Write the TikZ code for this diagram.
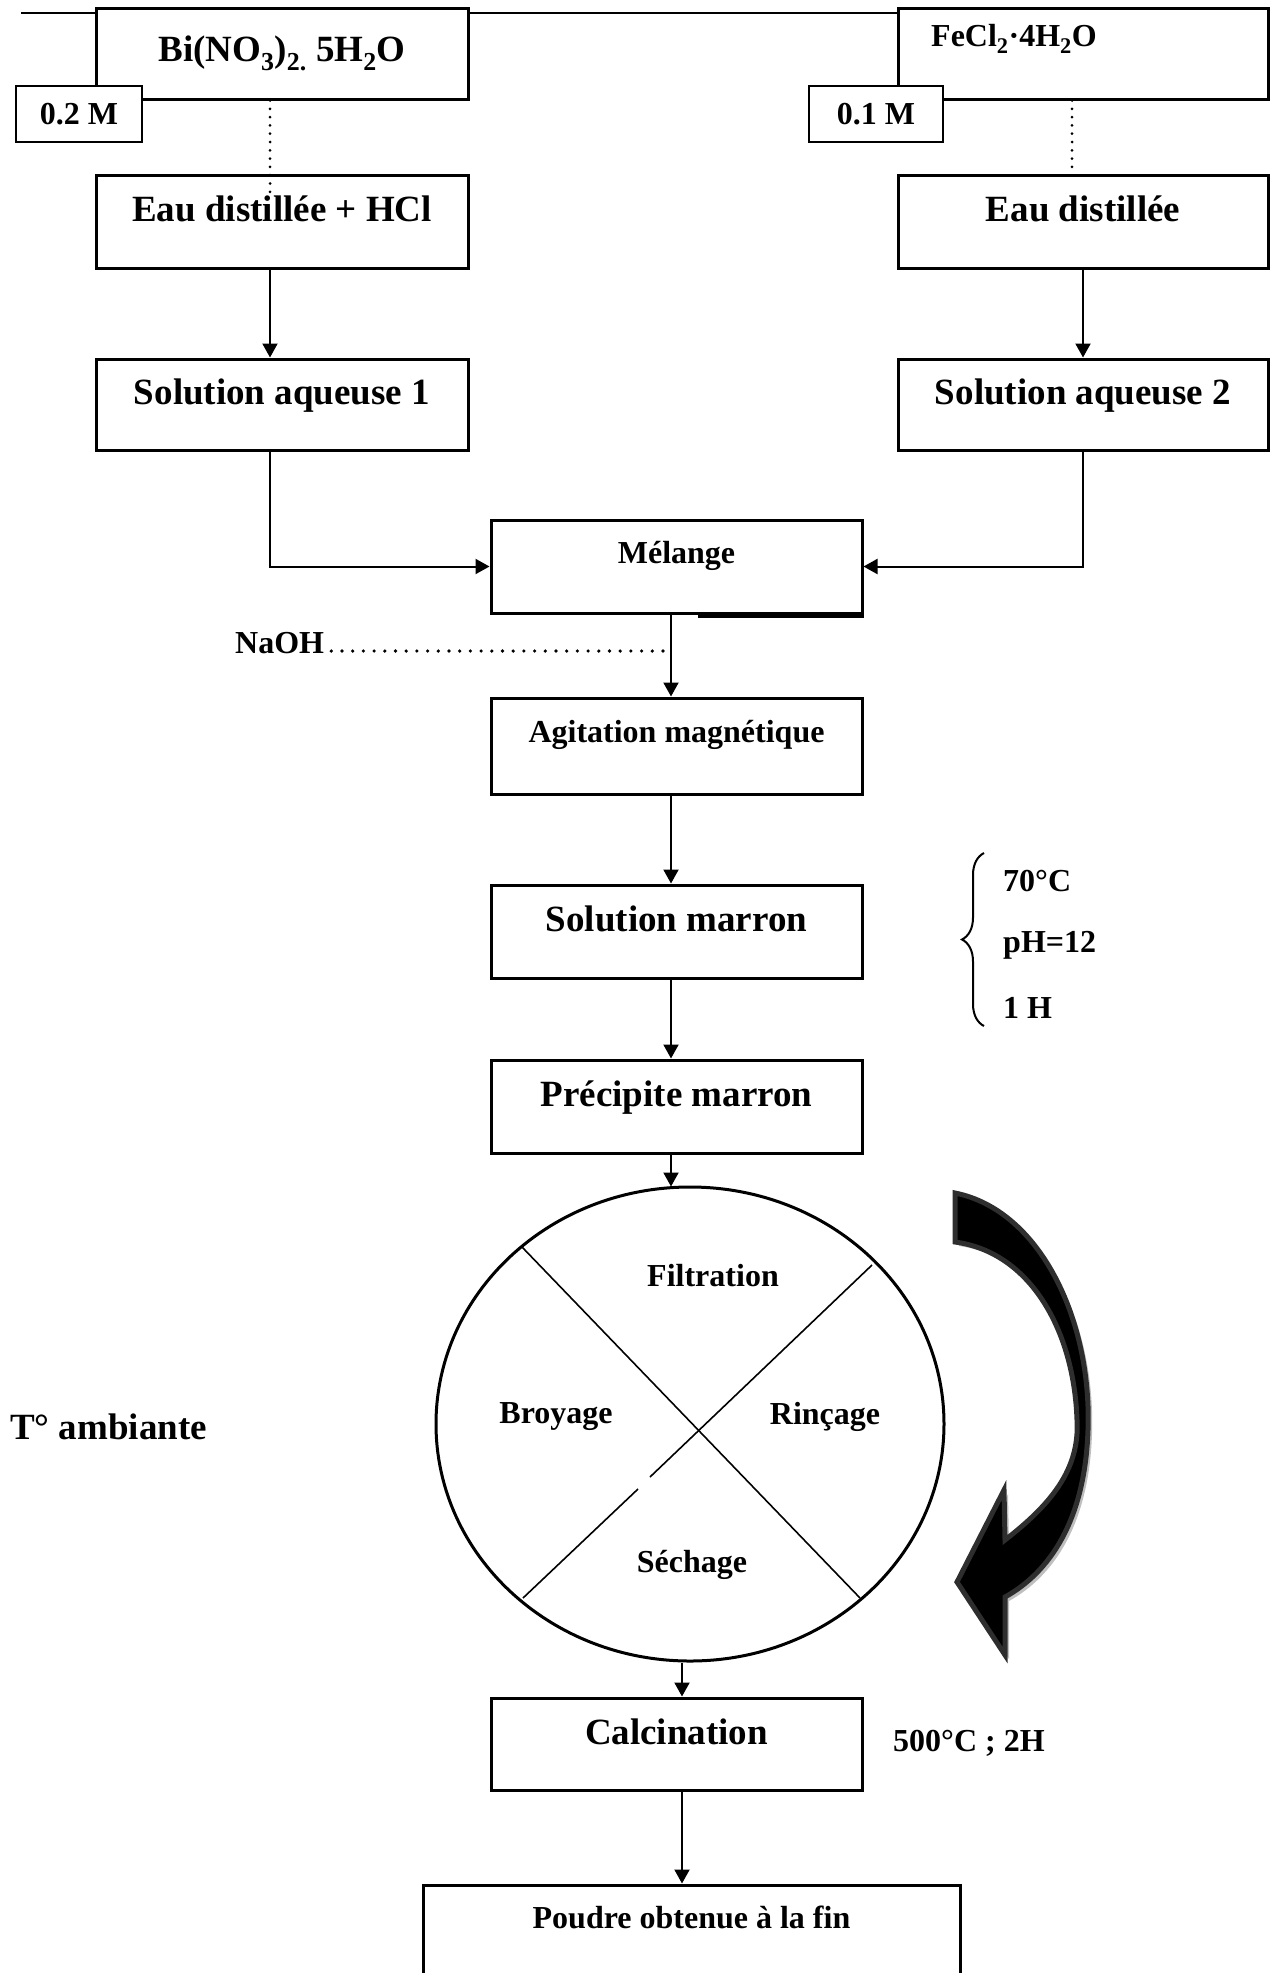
\documentclass[tikz,border=0pt]{standalone}
\usepackage{fontspec}
\setmainfont{Liberation Serif}
\usetikzlibrary{arrows.meta,decorations.pathreplacing,shapes.geometric,calc}
\newcommand\curvedarrowpath{(955,1193) .. controls (1040,1210) and (1092,1320) .. (1088,1430) .. controls (1085,1520) and (1050,1572) .. (1005,1597) -- (1005,1655) -- (957,1582) -- (1004,1490) -- (1005,1540) .. controls (1050,1505) and (1080,1470) .. (1077,1420) .. controls (1074,1330) and (1030,1252) .. (955,1242) -- cycle}
\begin{document}
\begin{tikzpicture}[x=1pt,y=-1pt,
  box/.style={draw, line width=3pt, fill=white, inner sep=0pt},
  bigtxt/.style={font=\fontsize{37}{40}\selectfont\bfseries},
  smalltxt/.style={font=\fontsize{32}{35}\selectfont\bfseries},
  bigbox/.style={box, bigtxt, minimum width=372pt, minimum height=93pt, text height=26pt, text depth=26pt},
  smallbox/.style={box, smalltxt, minimum width=372pt, minimum height=93pt, text height=22pt, text depth=29pt},
  molbox/.style={draw, line width=2pt, fill=white, smalltxt, inner sep=0pt, minimum height=56pt},
  conn/.style={line width=2pt, -{Triangle[length=14pt,width=15pt]}},
  dotline/.style={line width=3pt, line cap=round, dash pattern=on 0pt off 8.3pt},
  dotlinebig/.style={line width=3.6pt, line cap=round, dash pattern=on 0pt off 10.7pt},
  lbl/.style={smalltxt, inner sep=0pt},
]
\useasboundingbox (0,0) rectangle (1271,1973);
\clip (0,0) rectangle (1271,1973);

% column x positions
\coordinate (c1) at (270,0);
\coordinate (c2) at (1072,0);
\coordinate (c3) at (671,0);
\coordinate (c4) at (682,0);
\coordinate (c5) at (698,0);

% header rule
\coordinate (h1) at (21,13);
\coordinate (h2) at (900,13);
\draw[line width=2.2pt] (h1) -- (h2);

% top boxes
\node[box, bigtxt, minimum width=372pt, minimum height=91pt] (bi) at (282,53.5)
  {Bi(NO\textsubscript{3})\textsubscript{2.} 5H\textsubscript{2}O};
\node[box, minimum width=370pt, minimum height=91pt] (fe) at (1083,53.5) {};
\node[lbl] (fetxt) at (1014,39) {FeCl\textsubscript{2}·4H\textsubscript{2}O};
\node[molbox, minimum width=126pt] (m02) at (79,114) {0.2 M};
\node[molbox, minimum width=134pt] (m01) at (876,114) {0.1 M};

% second row
\node[bigbox] (eau1) at (282,221.5) {Eau distillée + HCl};
\node[bigbox, minimum width=370pt] (eau2) at (1083,221.5) {Eau distillée};
\coordinate (d1) at (270,193);
\coordinate (d2) at (1072,172);
\draw[dotline] (bi.south -| c1) -- (d1);
\draw[dotline] (fe.south -| c2) -- (d2);

% solutions
\node[bigbox, minimum height=91pt] (sol1) at (282,404.5) {Solution aqueuse 1};
\node[bigbox, minimum width=370pt, minimum height=91pt] (sol2) at (1083,404.5) {Solution aqueuse 2};
\draw[conn] (eau1.south -| c1) -- (sol1.north -| c1);
\draw[conn] (eau2.south) -- (sol2.north);

% main column
\node[smallbox, minimum width=371pt] (mel) at (676.5,566.5) {Mélange};
\draw[line width=3pt] ($(mel.south east)+(0,1.5)$) -- ($(mel.south -| c5)+(0,1.5)$);
\draw[conn] (c1 |- sol1.south) |- (mel.west);
\draw[conn] (sol2.south) |- (mel.east);

\node[smallbox, minimum width=371pt, minimum height=96pt] (agit) at (676.5,746) {Agitation magnétique};
\draw[conn] (mel.south -| c3) -- (agit.north -| c3);

\node[smalltxt, anchor=base west, inner sep=0pt] (naoh) at (235,653) {NaOH};
\draw[dotlinebig] ($(naoh.base east)+(7,-2)$) -- ($(c3 |- naoh.base)+(0,-2)$);

\node[bigbox, minimum width=371pt] (solm) at (676.5,931.5) {Solution marron};
\draw[conn] (agit.south -| c3) -- (solm.north -| c3);

% conditions brace
\coordinate (b1) at (984,1026);
\coordinate (b2) at (984,853);
\draw[line width=2pt, decorate, decoration={brace, amplitude=22pt}] (b1) -- (b2);
\node[lbl, anchor=west] (t70) at (1003,881) {70°C};
\node[lbl, anchor=west] (tph) at (1003,945) {pH=12};
\node[lbl, anchor=west] (t1h) at (1003,1008) {1 H};

\node[bigbox, minimum width=371pt] (prec) at (676.5,1106.5) {Précipite marron};
\draw[conn] (solm.south -| c3) -- (prec.north -| c3);

% cycle circle
\node[draw, ellipse, line width=3pt, minimum width=508pt, minimum height=474pt, inner sep=0pt] (circ) at (690,1424) {};
\draw[conn] (prec.south -| c3) -- ($(c3 |- circ.north)+(0,1)$);
\coordinate (l1a) at (522,1247);
\coordinate (l1b) at (860,1598);
\coordinate (l2a) at (872,1265);
\coordinate (l2m) at (650,1477);
\coordinate (l2n) at (638,1489);
\coordinate (l2b) at (523,1598);
\draw[line width=1.6pt] (l1a) -- (l1b);
\draw[line width=1.6pt] (l2a) -- (l2m);
\draw[line width=1.6pt] (l2n) -- (l2b);
\node[lbl] (filt) at (713,1276) {Filtration};
\node[lbl] (broy) at (556,1417) {Broyage};
\node[lbl] (rinc) at (825,1417) {Rinçage};
\node[lbl] (sech) at (692,1565) {Séchage};

\node[bigtxt, anchor=west, inner sep=0pt] (tamb) at (10,1427) {T° ambiante};

% curved arrow with shadow
\begin{scope}[shift={(4,4)}]
\fill[black!25] \curvedarrowpath;
\end{scope}
\filldraw[fill=black, draw=black!82, line width=5pt, line join=miter] \curvedarrowpath;

% calcination
\node[bigbox, minimum width=371pt, minimum height=92pt] (calc) at (676.5,1744) {Calcination};
\draw[conn] (c4 |- circ.south) -- (calc.north -| c4);
\node[lbl, anchor=west] (t500) at (893,1743) {500°C ; 2H};

\node[box, smalltxt, minimum width=537pt, minimum height=110pt, text height=22pt, text depth=46pt] (poudre) at (691.5,1940) {Poudre obtenue à la fin};
\draw[conn] (calc.south -| c4) -- (poudre.north -| c4);
\end{tikzpicture}
\end{document}
